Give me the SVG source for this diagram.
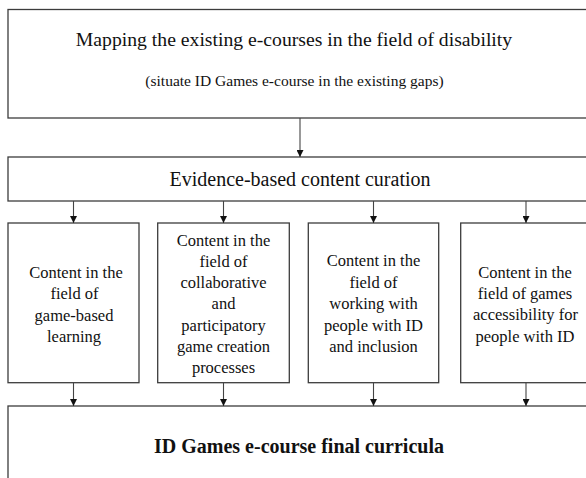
<svg xmlns="http://www.w3.org/2000/svg" width="586" height="478" viewBox="0 0 586 478">
<style>
  .box { fill: #ffffff; stroke: #3c3c3c; stroke-width: 1.3; }
  .t { font-family: "Liberation Serif", "Times New Roman", serif; fill: #111; text-anchor: middle; }
  .main { font-size: 19.7px; }
  .evi { font-size: 20px; }
  .sub { font-size: 15.5px; }
  .c { font-size: 16.5px; }
  .b { font-size: 20px; font-weight: bold; }
  .conn { stroke: #444; stroke-width: 1.1; fill: none; }
</style>
<defs>
  <marker id="ah" markerUnits="userSpaceOnUse" markerWidth="7" markerHeight="7" refX="7" refY="3.5" orient="auto">
    <path d="M0,0 L7,3.5 L0,7 z" fill="#111"/>
  </marker>
</defs>
<rect width="586" height="478" fill="#ffffff"/>

<g id="mapping">
  <rect class="box" x="8" y="9.5" width="600" height="108.5"/>
  <text class="t main" x="294" y="46">Mapping the existing e-courses in the field of disability</text>
  <text class="t sub" x="294.5" y="85.5">(situate ID Games e-course in the existing gaps)</text>
</g>

<g id="curation">
  <rect class="box" x="8" y="157" width="600" height="44"/>
  <text class="t evi" x="300" y="186">Evidence-based content curation</text>
</g>

<g id="content1">
  <rect class="box" x="8" y="223" width="131" height="159.7"/>
  <text class="t c" x="76" y="278">Content in the</text>
  <text class="t c" x="74.5" y="299.3">field of</text>
  <text class="t c" x="74" y="320.6">game-based</text>
  <text class="t c" x="74" y="341.9">learning</text>
</g>

<g id="content2">
  <rect class="box" x="157.7" y="223" width="131.6" height="159.7"/>
  <text class="t c" x="223.5" y="245.7">Content in the</text>
  <text class="t c" x="223.5" y="266.9">field of</text>
  <text class="t c" x="223.5" y="288.1">collaborative</text>
  <text class="t c" x="223.5" y="309.3">and</text>
  <text class="t c" x="223.5" y="330.5">participatory</text>
  <text class="t c" x="223.5" y="351.7">game creation</text>
  <text class="t c" x="223.5" y="372.9">processes</text>
</g>

<g id="content3">
  <rect class="box" x="308.3" y="223" width="130.4" height="159.7"/>
  <text class="t c" x="373.5" y="266">Content in the</text>
  <text class="t c" x="373.5" y="287.5">field of</text>
  <text class="t c" x="373.5" y="309">working with</text>
  <text class="t c" x="373.5" y="330.5">people with ID</text>
  <text class="t c" x="373.5" y="352">and inclusion</text>
</g>

<g id="content4">
  <rect class="box" x="460.7" y="223" width="131" height="159.7"/>
  <text class="t c" x="525" y="277.7">Content in the</text>
  <text class="t c" x="525" y="299">field of games</text>
  <text class="t c" x="525.5" y="320.3">accessibility  for</text>
  <text class="t c" x="525" y="341.6">people with ID</text>
</g>

<g id="curricula">
  <rect class="box" x="8" y="406" width="600" height="100"/>
  <text class="t b" x="299" y="453">ID Games e-course final curricula</text>
</g>

<g id="connectors">
  <line class="conn" x1="300" y1="118" x2="300" y2="157" marker-end="url(#ah)"/>
  <line class="conn" x1="73.5" y1="201" x2="73.5" y2="223" marker-end="url(#ah)"/>
  <line class="conn" x1="223.5" y1="201" x2="223.5" y2="223" marker-end="url(#ah)"/>
  <line class="conn" x1="373.5" y1="201" x2="373.5" y2="223" marker-end="url(#ah)"/>
  <line class="conn" x1="526" y1="201" x2="526" y2="223" marker-end="url(#ah)"/>
  <line class="conn" x1="73.5" y1="382.7" x2="73.5" y2="406" marker-end="url(#ah)"/>
  <line class="conn" x1="223.5" y1="382.7" x2="223.5" y2="406" marker-end="url(#ah)"/>
  <line class="conn" x1="373.5" y1="382.7" x2="373.5" y2="406" marker-end="url(#ah)"/>
  <line class="conn" x1="526" y1="382.7" x2="526" y2="406" marker-end="url(#ah)"/>
</g>
</svg>
